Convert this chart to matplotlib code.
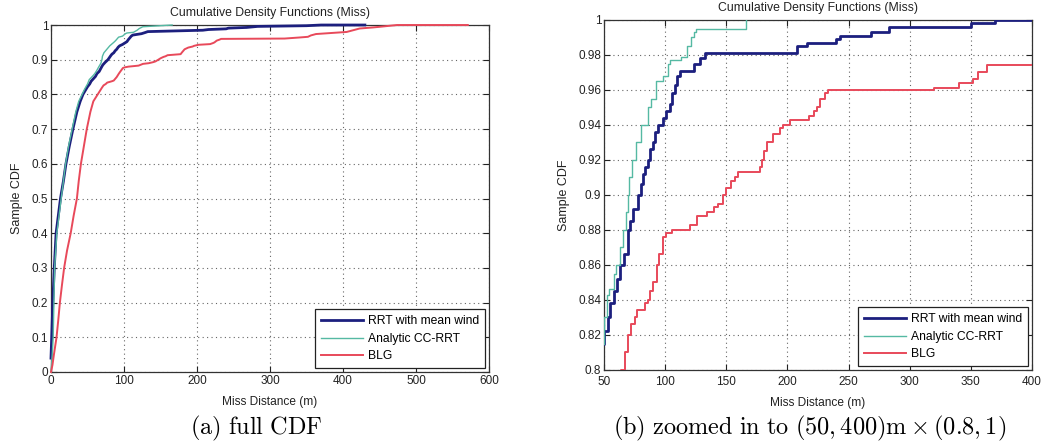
import matplotlib
matplotlib.use("Agg")
import matplotlib.pyplot as plt

# ---------------- data ----------------
rrt_x = [0, 1, 2.5, 4.5, 7, 10, 13, 17, 20.5, 25, 30, 35.5, 40, 43.8, 48, 50, 53, 55, 58,
         61, 63, 66, 69.6, 71, 74, 78, 80, 82, 83.5, 86, 88, 90, 92, 94, 98, 101, 104, 106,
         108, 110, 112, 124, 128.5, 132.6, 208, 215.7, 240, 243, 268, 283, 350, 370, 430]
rrt_y = [0.04, 0.10, 0.20, 0.30, 0.40, 0.45, 0.50, 0.55, 0.60, 0.65, 0.70, 0.75, 0.78, 0.80,
         0.815, 0.822, 0.830, 0.838, 0.845, 0.852, 0.860, 0.866, 0.880, 0.885, 0.892, 0.900,
         0.906, 0.912, 0.916, 0.920, 0.926, 0.930, 0.936, 0.940, 0.944, 0.948, 0.952, 0.958,
         0.963, 0.968, 0.971, 0.975, 0.978, 0.981, 0.985, 0.987, 0.989, 0.991, 0.993, 0.996,
         0.998, 1.0, 1.0]

cc_x = [0, 1, 2, 3, 4, 5, 8, 11, 14, 17, 20, 24, 29, 34, 38, 42.6, 46, 50, 52.5, 54, 58, 60,
        63, 65.6, 68.4, 69.8, 70.5, 72.5, 76.5, 80.5, 86, 88.5, 92.6, 98, 102, 104, 113, 118,
        121, 124, 125.6, 166]
cc_y = [0.0, 0.03, 0.06, 0.10, 0.20, 0.30, 0.40, 0.45, 0.50, 0.55, 0.60, 0.65, 0.70, 0.75,
        0.78, 0.80, 0.815, 0.830, 0.843, 0.846, 0.855, 0.860, 0.870, 0.880, 0.890, 0.900,
        0.910, 0.920, 0.930, 0.940, 0.950, 0.955, 0.965, 0.968, 0.975, 0.977, 0.979, 0.985,
        0.990, 0.993, 0.995, 1.0]

blg_x = [0, 2, 4, 7.6, 10, 12.2, 15, 18, 22, 27, 31, 35.5, 38, 41, 45, 49, 54, 58, 64, 67, 70,
         72, 75, 77, 83.5, 86, 88, 90, 93, 95, 98.5, 101, 106, 120, 126, 134, 140, 143, 147,
         150, 154, 157, 159.7, 177.6, 179, 181, 183, 188, 194, 196, 202, 218, 222, 224, 227,
         231, 233, 320, 340, 352, 356, 363, 405, 414, 423, 441, 451, 474, 571]
blg_y = [0.0, 0.02, 0.05, 0.10, 0.15, 0.20, 0.25, 0.30, 0.35, 0.40, 0.45, 0.50, 0.55, 0.60,
         0.65, 0.70, 0.75, 0.78, 0.80, 0.81, 0.82, 0.826, 0.830, 0.834, 0.838, 0.840, 0.845,
         0.850, 0.860, 0.866, 0.876, 0.878, 0.880, 0.883, 0.888, 0.890, 0.893, 0.895, 0.900,
         0.904, 0.908, 0.910, 0.913, 0.916, 0.920, 0.925, 0.930, 0.935, 0.938, 0.940, 0.943,
         0.945, 0.948, 0.950, 0.955, 0.958, 0.960, 0.961, 0.964, 0.966, 0.970, 0.974, 0.980,
         0.985, 0.990, 0.993, 0.995, 1.0, 1.0]

series_names = ["RRT with mean wind", "Analytic CC-RRT", "BLG"]

full_xticks = [0, 100, 200, 300, 400, 500, 600]
full_yticks = [0, 0.1, 0.2, 0.3, 0.4, 0.5, 0.6, 0.7, 0.8, 0.9, 1.0]
full_ylabels = ["0", "0.1", "0.2", "0.3", "0.4", "0.5", "0.6", "0.7", "0.8", "0.9", "1"]

zoom_xticks = [50, 100, 150, 200, 250, 300, 350, 400]
zoom_yticks = [0.8, 0.82, 0.84, 0.86, 0.88, 0.9, 0.92, 0.94, 0.96, 0.98, 1.0]
zoom_ylabels = ["0.8", "0.82", "0.84", "0.86", "0.88", "0.9", "0.92", "0.94", "0.96", "0.98", "1"]

title_text = "Cumulative Density Functions (Miss)"
xlabel_text = "Miss Distance (m)"
ylabel_text = "Sample CDF"
caption_a = r"$\mathrm{(a)\ full\ CDF}$"
caption_b = r"$\mathrm{(b)\ zoomed\ in\ to\ }(50,400)\mathrm{m}\times(0.8,1)$"

# ---------------- style ----------------
plt.rcParams["font.family"] = ["Liberation Sans", "DejaVu Sans"]
plt.rcParams["mathtext.fontset"] = "cm"

colors = ["#1c1f7e", "#55b9a3", "#e8495a"]
widths = [2.0, 1.0, 1.4]

fig = plt.figure(figsize=(10.6, 4.42), dpi=100)
ax1 = fig.add_axes([0.0481, 0.1584, 0.4132, 0.7850])
ax2 = fig.add_axes([0.5698, 0.1629, 0.4038, 0.7919])


def draw(ax, xlim, ylim, xticks, yticks, ylabels, stepped, ylab_x, xpad):
    data = [(rrt_x, rrt_y), (cc_x, cc_y), (blg_x, blg_y)]
    for (xs, ys), c, lw, name in zip(data, colors, widths, series_names):
        ds = "steps-post" if stepped else "default"
        ax.plot(xs, ys, drawstyle=ds, color=c, lw=lw, label=name, zorder=3,
                clip_on=stepped)
    ax.set_xlim(*xlim)
    ax.set_ylim(*ylim)
    ax.set_xticks(xticks)
    ax.set_xticklabels([str(v) for v in xticks])
    ax.set_yticks(yticks)
    ax.set_yticklabels(ylabels)
    ax.tick_params(direction="in", top=True, right=True, labelsize=8.5,
                   length=4, width=0.8, colors="#222222", pad=2)
    ax.tick_params(axis="x", pad=xpad)
    ax.grid(True, linestyle=(0, (1, 3)), color="#666666", lw=0.8)
    for s in ax.spines.values():
        s.set_color("#333333")
        s.set_linewidth(0.9)
    ax.set_title(title_text, fontsize=8.8, pad=6.5, color="#222222")
    ax.set_xlabel(xlabel_text, fontsize=8.6, labelpad=6, color="#222222")
    ax.set_ylabel(ylabel_text, fontsize=9, color="#222222")
    ax.yaxis.set_label_coords(ylab_x, 0.5)
    leg = ax.legend(loc="lower right", fontsize=8.7, handlelength=3.5, frameon=True,
                    fancybox=False, borderaxespad=0.3, borderpad=0.5,
                    labelspacing=0.45, handletextpad=0.4, framealpha=1)
    leg.set_zorder(5)
    leg.get_frame().set_edgecolor("#222222")
    leg.get_frame().set_linewidth(0.9)


draw(ax1, (0, 600), (0, 1), full_xticks, full_yticks, full_ylabels,
     stepped=False, ylab_x=-0.065, xpad=2.5)
draw(ax2, (50, 400), (0.8, 1), zoom_xticks, zoom_yticks, zoom_ylabels,
     stepped=True, ylab_x=-0.080, xpad=4.5)

fig.text(0.2415, 0.030, caption_a, ha="center", va="center", fontsize=17.5)
fig.text(0.7640, 0.030, caption_b, ha="center", va="center", fontsize=17.5)

fig.savefig("out.png", dpi=100)
